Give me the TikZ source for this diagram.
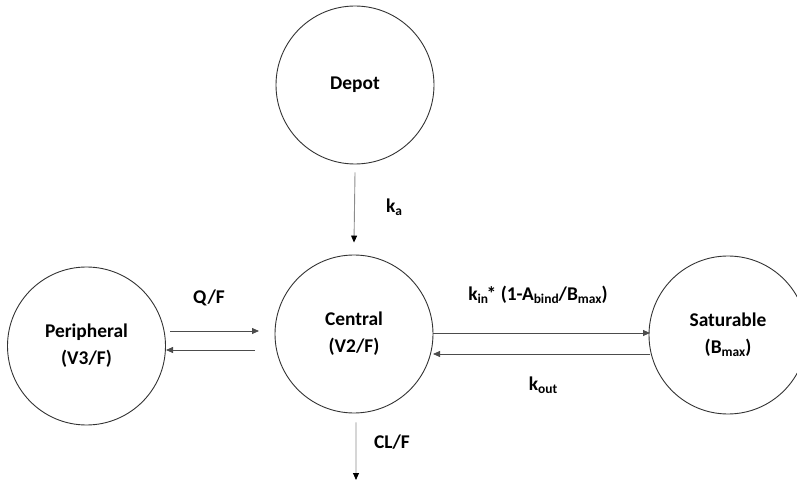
\documentclass[tikz,border=0pt]{standalone}
\usepackage{fontspec}
\setmainfont{Carlito}
\usetikzlibrary{arrows.meta}
\newcommand{\lowtxt}[1]{\raisebox{-0.35ex}{\fontsize{13.5}{14}\selectfont #1}}
\tikzset{
  comp/.style={circle, draw=black!80, line width=0.9bp, minimum size=158bp, inner sep=0pt,
    align=center, font=\fontsize{19.5}{27}\selectfont\bfseries},
  lbl/.style={font=\fontsize{19.5}{24}\selectfont\bfseries, inner sep=0pt},
  flow/.style={draw=black!70, line width=0.8bp, -{Triangle[length=7bp,width=6bp]}},
  vflow/.style={draw=black!45, line width=0.9bp, -{Triangle[length=7bp,width=6bp,fill=black,color=black]}}
}
\begin{document}
\begin{tikzpicture}[x=1bp,y=-1bp]
\useasboundingbox (0,0) rectangle (797,483);
\node[comp] (depot) at (355,85) {Depot};
\node[comp] (central) at (354,334) {Central\\(V2/F)};
\node[comp] (periph) at (86.5,346) {Peripheral\\(V3/F)};
\node[comp] (satur) at (728,335) {Saturable\\(B\lowtxt{max})};

\coordinate (pc1) at (170,331);
\coordinate (pc2) at (259,331);
\coordinate (cp1) at (255,350);
\coordinate (cp2) at (166,350);
\coordinate (cs1) at (433,333);
\coordinate (cs2) at (650,333);
\coordinate (sc1) at (650,354);
\coordinate (sc2) at (433,354);
\coordinate (out) at (356,480);

\draw[vflow] ([yshift=-8bp]depot.south) -- ([yshift=12bp]central.north);
\draw[flow] (pc1) -- (pc2);
\draw[flow] (cp1) -- (cp2);
\draw[flow] (cs1) -- (cs2);
\draw[flow] (sc1) -- (sc2);
\draw[vflow] ([xshift=2bp,yshift=-9bp]central.south) -- (out);

\node[lbl] (ka) at (394,207) {k\lowtxt{a}};
\node[lbl] (qf) at (209,298) {Q/F};
\node[lbl] (kin) at (538,295) {k\lowtxt{in}\kern-1.5bp* (1-A\lowtxt{bind}/B\lowtxt{max})};
\node[lbl] (kout) at (543,385) {k\lowtxt{out}};
\node[lbl] (clf) at (392,442) {CL/F};
\end{tikzpicture}
\end{document}
